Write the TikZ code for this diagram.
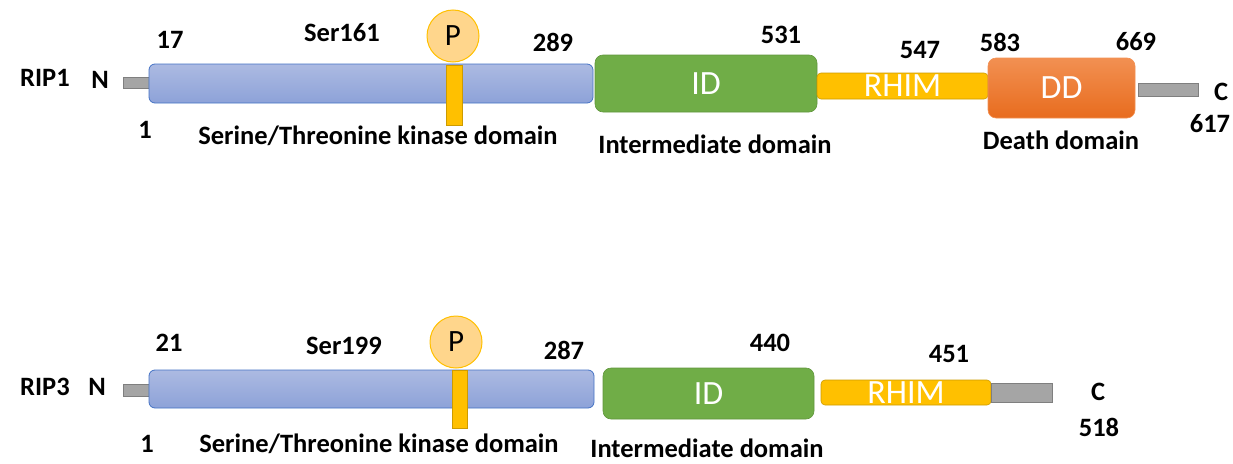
\documentclass[tikz,border=0pt]{standalone}
\usepackage{fontspec}
\setmainfont{Carlito}
\usetikzlibrary{positioning}
\definecolor{KinTop}{RGB}{172,186,226}
\definecolor{KinBot}{RGB}{141,162,216}
\definecolor{KinLine}{RGB}{68,114,196}
\definecolor{StubGray}{RGB}{165,165,165}
\definecolor{StubLine}{RGB}{127,127,127}
\definecolor{IdGreen}{RGB}{112,173,71}
\definecolor{IdLine}{RGB}{96,150,60}
\definecolor{Gold}{RGB}{255,192,0}
\definecolor{GoldLine}{RGB}{205,155,0}
\definecolor{PhosFill}{RGB}{255,214,140}
\definecolor{DdTop}{RGB}{242,144,82}
\definecolor{DdBot}{RGB}{232,108,30}
\tikzset{
  box/.style={rectangle,inner sep=0pt,text=white,font=\fontsize{34}{36}\selectfont},
  stub/.style={box,fill=StubGray,draw=StubLine,line width=0.6pt},
  kin/.style={box,rounded corners=6pt,top color=KinTop,bottom color=KinBot,draw=KinLine,line width=0.8pt},
  stem/.style={box,fill=Gold,draw=GoldLine,line width=0.6pt},
  idbox/.style={box,rounded corners=8pt,fill=IdGreen,draw=IdLine,line width=0.6pt},
  rhim/.style={box,rounded corners=4pt,fill=Gold,draw=GoldLine,line width=0.6pt},
  ddbox/.style={box,rounded corners=8pt,top color=DdTop,bottom color=DdBot,draw=DdTop,line width=0.6pt},
  phos/.style={circle,fill=PhosFill,draw=Gold,line width=1pt,minimum size=52pt,inner sep=0pt,font=\fontsize{31}{33}\selectfont},
  lab/.style={inner sep=0pt,font=\fontsize{26.5}{29}\selectfont\bfseries},
}

\begin{document}
\begin{tikzpicture}[x=1pt,y=-1pt]
\useasboundingbox (0,0) rectangle (1233,463);
% RIP1
\node[stub,minimum width=27pt,minimum height=11pt] (nt1) at (137,82.5) {};
\node[kin,minimum width=444pt,minimum height=39pt] (kin1) at (371,83.5) {};
\node[stem,minimum width=16pt,minimum height=60pt] (stem1) at (454,95) {};
\node[phos] (p1) at (453,36) {P};
\node[idbox,minimum width=222pt,minimum height=57pt] (id1) at (706,83.5) {ID};
\node[rhim,minimum width=171pt,minimum height=26pt] (rhim1) at (902.5,86) {RHIM};
\node[ddbox,minimum width=147pt,minimum height=60pt] (dd1) at (1061.5,88) {DD};
\node[stub,minimum width=60pt,minimum height=13pt] (ct1) at (1168,89.5) {};
\node[lab] (rip1) at (45,78) {RIP1};
\node[lab] (n1) at (100,80) {N};
\node[lab] (c1) at (1221,92) {C};
\node[lab] at (170,40) {17};
\node[lab] at (342,33) {Ser161};
\node[lab] at (553,42) {289};
\node[lab] at (145,130) {1};
\node[lab] at (781,35) {531};
\node[lab] at (920,50) {547};
\node[lab] at (1000,42) {583};
\node[lab] at (1136,42) {669};
\node[lab] at (1210,124) {617};
\node[lab] at (378,136) {Serine/Threonine kinase domain};
\node[lab] at (715,144) {Intermediate domain};
\node[lab] at (1061,140) {Death domain};
% RIP3
\node[stub,minimum width=27pt,minimum height=12pt] (nt3) at (137,390) {};
\node[kin,minimum width=445pt,minimum height=38pt] (kin3) at (371.5,389) {};
\node[stem,minimum width=15pt,minimum height=58pt] (stem3) at (459.5,399) {};
\node[phos] (p3) at (456,342) {P};
\node[idbox,minimum width=211pt,minimum height=51pt] (id3) at (708.5,393.5) {ID};
\node[rhim,minimum width=170pt,minimum height=25pt] (rhim3) at (906,392.5) {RHIM};
\node[stub,minimum width=61pt,minimum height=19pt] (ct3) at (1021.5,392.5) {};
\node[lab] (rip3) at (45,387) {RIP3};
\node[lab] (n3) at (97,387) {N};
\node[lab] (c3) at (1098,392) {C};
\node[lab] at (169,343) {21};
\node[lab] at (344,346) {Ser199};
\node[lab] at (564,350) {287};
\node[lab] at (147,444) {1};
\node[lab] at (770,343) {440};
\node[lab] at (949,354) {451};
\node[lab] at (1099,427) {518};
\node[lab] at (379,444) {Serine/Threonine kinase domain};
\node[lab] at (707,448) {Intermediate domain};
\end{tikzpicture}
\end{document}
